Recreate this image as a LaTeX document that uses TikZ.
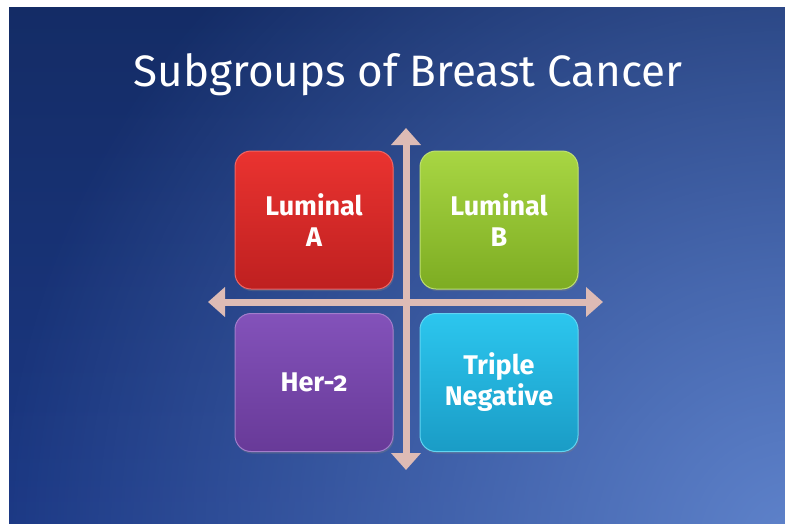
\documentclass[tikz,border=0pt]{standalone}
\usepackage{fontspec}
\setmainfont{Fira Sans}[Numbers=OldStyle]
\usetikzlibrary{arrows.meta,fadings,shadows}
\definecolor{bgtop}{HTML}{142C66}
\definecolor{bgbot}{HTML}{1B3884}
\definecolor{bglight}{HTML}{5F83CB}
\definecolor{arrowc}{HTML}{DDBBB5}
\definecolor{redT}{HTML}{EA3330}
\definecolor{redB}{HTML}{BE2020}
\definecolor{grnT}{HTML}{A8D643}
\definecolor{grnB}{HTML}{7DAC22}
\definecolor{purT}{HTML}{8352BA}
\definecolor{purB}{HTML}{683A98}
\definecolor{cyaT}{HTML}{2CC6EE}
\definecolor{cyaB}{HTML}{1A9CC6}
\tikzfading[name=glow, inner color=transparent!0, outer color=transparent!100]
\tikzset{
  quad/.style={rounded corners=16pt, minimum width=158pt, minimum height=138pt,
    inner sep=0pt, align=center, text=white, font=\bfseries\fontsize{27}{31}\selectfont,
    line width=1pt, drop shadow={shadow xshift=1pt, shadow yshift=-2pt, opacity=0.35}},
  axis/.style={arrowc, line width=7pt,
    {Triangle[width=29pt,length=17pt]}-{Triangle[width=29pt,length=17pt]}},
}
\begin{document}
\begin{tikzpicture}[x=1pt,y=-1pt]
\useasboundingbox (0,0) rectangle (785,523);
\fill[white] (0,0) rectangle (785,523);
\begin{scope}
\clip (9,7) rectangle (785,523);
\shade[top color=bgtop, bottom color=bgbot] (9,7) rectangle (785,523);
\fill[bglight, path fading=glow] (795,545) circle (800);
\end{scope}
\node[text=white, font=\fontsize{44}{52}\selectfont, anchor=base] (title) at (408,86) {Subgroups of Breast Cancer};
\coordinate (vtop) at (406,128);
\coordinate (vbot) at (406,470);
\coordinate (hl) at (208,302);
\coordinate (hr) at (603,302);
\draw[axis] (vtop) -- (vbot);
\draw[axis] (hl) -- (hr);
\node[quad, top color=redT, bottom color=redB, draw=redT!75!white] (la) at (314,220) {Luminal\\A};
\node[quad, top color=grnT, bottom color=grnB, draw=grnT!75!white] (lb) at (499,220) {Luminal\\B};
\node[quad, top color=purT, bottom color=purB, draw=purT!75!white] (her) at (314,382.5) {Her-2};
\node[quad, top color=cyaT, bottom color=cyaB, draw=cyaT!75!white] (tn) at (499,382.5) {Triple\\Negative};
\end{tikzpicture}
\end{document}
